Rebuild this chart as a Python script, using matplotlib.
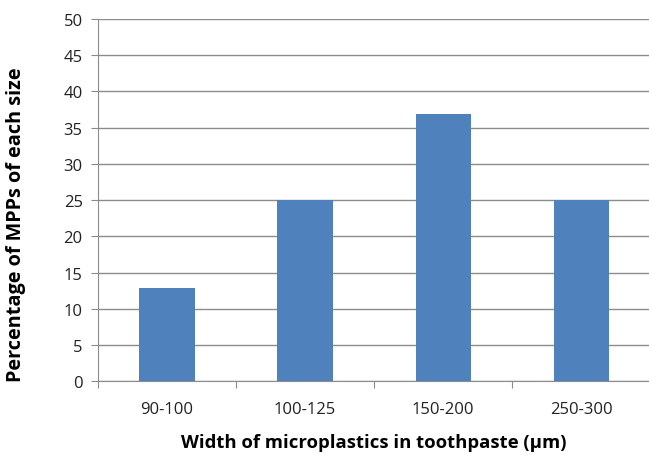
import numpy as np
import matplotlib
matplotlib.use("Agg")
import matplotlib.pyplot as plt

categories = ["90-100", "100-125", "150-200", "250-300"]
percentages = [12.9, 25.0, 36.9, 25.0]
y_ticks = [0, 5, 10, 15, 20, 25, 30, 35, 40, 45, 50]

plt.rcParams['font.family'] = ['Open Sans', 'DejaVu Sans']

fig = plt.figure(figsize=(6.49, 4.56), dpi=100)
ax = fig.add_axes([0.151, 0.162, 0.851, 0.794])

x = np.arange(len(categories))
ax.bar(x, percentages, width=0.4, color="#4F81BD", zorder=3)

ax.set_xlim(-0.5, len(categories) - 0.5)
ax.set_ylim(0, 50)
ax.set_yticks(y_ticks)
ax.yaxis.grid(True, color="#8c8c8c", linewidth=1.0, zorder=0)

# category labels between boundary ticks, like Excel
ax.set_xticks(np.arange(len(categories) + 1) - 0.5)
ax.set_xticklabels([])
ax.set_xticks(x, minor=True)
ax.set_xticklabels(categories, minor=True, fontsize=12, color="#222222")
ax.tick_params(axis="x", which="minor", length=0, pad=14)
ax.tick_params(axis="x", which="major", length=5, color="#8c8c8c")
ax.tick_params(axis="y", length=5, color="#8c8c8c", labelsize=12,
               labelcolor="#222222", pad=6)

for side in ["top", "right"]:
    ax.spines[side].set_visible(False)
ax.spines["left"].set_color("#8c8c8c")
ax.spines["bottom"].set_color("#8c8c8c")

ax.set_xlabel("Width of microplastics in toothpaste (\u00b5m)", fontsize=13.3,
              fontweight="bold", labelpad=12)
ax.set_ylabel("Percentage of MPPs of each size", fontsize=14.3,
              fontweight="bold", labelpad=27, y=0.434)

fig.savefig("out.png", dpi=100)
